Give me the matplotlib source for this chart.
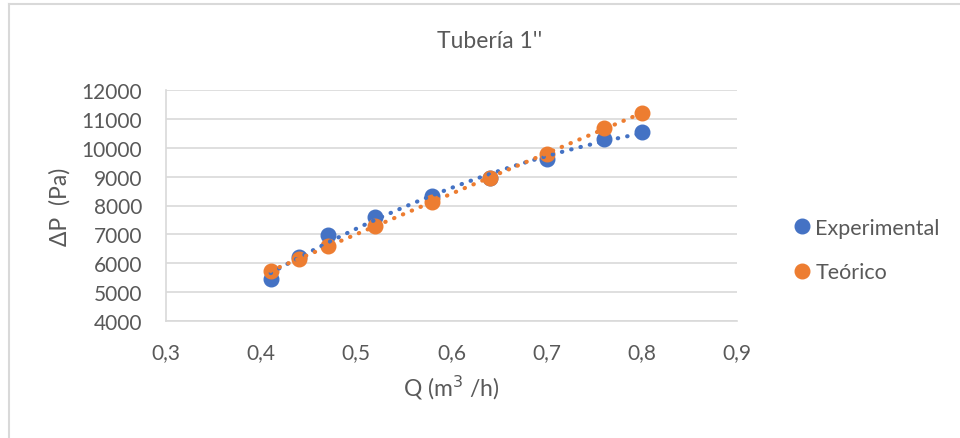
import numpy as np
import matplotlib
matplotlib.use("Agg")
import matplotlib.pyplot as plt
from matplotlib.ticker import FuncFormatter, MultipleLocator
from matplotlib.lines import Line2D

# Caudal (m3/h) y caída de presión (Pa)
q = [0.41, 0.44, 0.47, 0.52, 0.58, 0.64, 0.70, 0.76, 0.80]
dp_experimental = [5460, 6200, 6970, 7600, 8330, 8950, 9600, 10290, 10540]
dp_teorico = [5720, 6160, 6600, 7300, 8120, 8950, 9800, 10670, 11190]

series_names = ["Experimental", "Teórico"]
title = "Tubería 1''"
xlabel = "Q (m$^3$ /h)"
ylabel = "ΔP  (Pa)"

blue = "#4472C4"
orange = "#ED7D31"
text_color = "#595959"
grid_color = "#D9D9D9"

plt.rcParams["font.family"] = ["Lato", "DejaVu Sans"]

W, H = 960, 439
fig = plt.figure(figsize=(W / 100, H / 100), dpi=100)
ax = fig.add_axes([166 / W, 1 - 322 / H, (737 - 166) / W, (322 - 91) / H])

# Chart frame (top and left edges visible)
fig.lines.append(Line2D([9 / W, 1.0], [1 - 5 / H, 1 - 5 / H], transform=fig.transFigure,
                        color="#D9D9D9", linewidth=1.5))
fig.lines.append(Line2D([9 / W, 9 / W], [0, 1 - 5 / H], transform=fig.transFigure,
                        color="#D9D9D9", linewidth=1.5))

x = np.array(q)
xs = np.linspace(min(q), max(q), 100)
series = [(dp_experimental, blue, series_names[0]),
          (dp_teorico, orange, series_names[1])]

# Second-order polynomial trendlines
for ys, color, name in series:
    coef = np.polyfit(x, ys, 2)
    ax.plot(xs, np.polyval(coef, xs), linestyle=(0, (0.1, 2.2)), color=color,
            linewidth=3, dash_capstyle="round", zorder=3)
for ys, color, name in series:
    ax.plot(q, ys, "o", color=color, markersize=10.5, label=name, zorder=2)

ax.set_xlim(0.3, 0.9)
ax.set_ylim(4000, 12000)
ax.xaxis.set_major_locator(MultipleLocator(0.1))
ax.yaxis.set_major_locator(MultipleLocator(1000))
ax.xaxis.set_major_formatter(FuncFormatter(lambda v, p: f"{v:.1f}".replace(".", ",")))
ax.yaxis.set_major_formatter(FuncFormatter(lambda v, p: f"{v:.0f}"))

ax.grid(axis="y", color=grid_color, linewidth=1.2)
ax.set_axisbelow(True)
for s in ["top", "right"]:
    ax.spines[s].set_visible(False)
for s in ["left", "bottom"]:
    ax.spines[s].set_color(grid_color)
    ax.spines[s].set_linewidth(1.2)
ax.tick_params(axis="both", colors=text_color, labelsize=15, length=0)
ax.tick_params(axis="x", pad=15)
ax.tick_params(axis="y", pad=17)

fig.text(490 / W, 1 - 42 / H, title, ha="center", va="center",
         fontsize=16.5, color=text_color)
ax.set_xlabel(xlabel, fontsize=16.5, color=text_color, labelpad=8)
ax.set_ylabel(ylabel, fontsize=16.5, color=text_color, labelpad=8)

leg = fig.legend(loc="center left", bbox_to_anchor=(770 / W, 1 - 251 / H),
                 frameon=False, fontsize=15.5, handletextpad=0.0,
                 labelspacing=1.15, handlelength=1.2, markerscale=1.0)
for t in leg.get_texts():
    t.set_color(text_color)

fig.savefig("out.png", dpi=100)
